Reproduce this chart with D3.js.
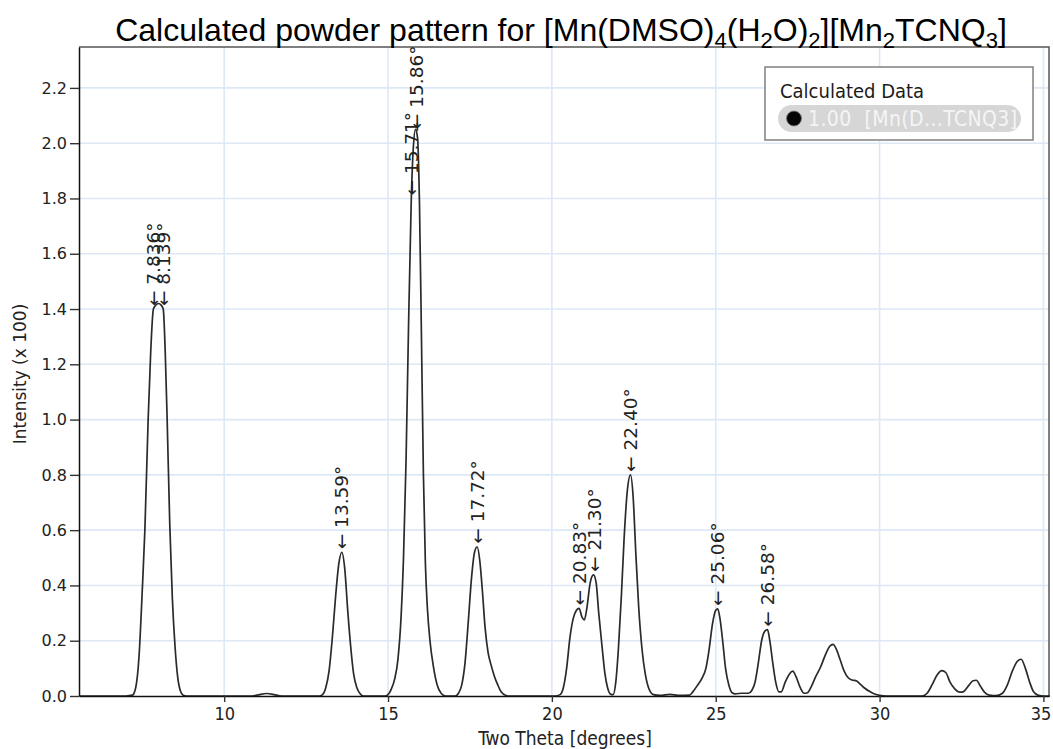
<!DOCTYPE html>
<html><head><meta charset="utf-8">
<script src="https://cdn.jsdelivr.net/npm/d3@7"></script>
<style>
html,body{margin:0;padding:0;background:#fff;}
svg{display:block;}
</style></head>
<body>
<svg id="chart" width="1053" height="749"></svg>
<script>
// ---------- data ----------
const twoTheta = [5.6,7.0,7.2,7.3,7.4,7.5,7.58,7.68,7.76,7.84,7.92,8.0,8.07,8.14,8.2,8.26,8.34,8.42,8.5,8.58,8.66,8.75,8.85,
 10.8,11.0,11.3,11.6,11.8,
 12.9,13.0,13.1,13.2,13.3,13.4,13.5,13.59,13.68,13.77,13.86,13.95,14.05,14.15,14.25,
 14.9,15.0,15.1,15.2,15.3,15.4,15.47,15.55,15.62,15.71,15.77,15.84,15.9,15.96,16.02,16.08,16.14,16.2,16.28,16.38,16.5,16.62,16.75,
 17.05,17.15,17.25,17.35,17.45,17.55,17.64,17.72,17.8,17.88,17.96,18.05,18.15,18.25,18.35,18.45,18.6,18.7,
 20.1,20.25,20.35,20.45,20.55,20.65,20.75,20.83,20.92,20.99,21.07,21.17,21.27,21.35,21.43,21.53,21.62,21.7,21.8,21.87,
 21.95,22.03,22.12,22.2,22.3,22.4,22.48,22.56,22.65,22.75,22.85,22.95,23.1,23.3,23.6,23.9,
 24.2,24.3,24.45,24.58,24.7,24.8,24.9,25.0,25.06,25.13,25.22,25.3,25.4,25.5,25.6,25.8,26.0,
 26.1,26.2,26.3,26.4,26.5,26.58,26.65,26.74,26.83,26.93,27.0,27.12,27.25,27.35,27.45,27.58,27.7,
 27.8,27.92,28.05,28.2,28.35,28.48,28.58,28.68,28.8,28.92,29.05,29.16,29.3,29.42,29.55,29.7,29.85,30.0,30.2,
 31.3,31.45,31.6,31.75,31.9,32.02,32.15,32.3,32.45,32.55,32.7,32.85,32.95,33.08,33.2,33.35,33.55,
 33.75,33.9,34.05,34.2,34.32,34.45,34.58,34.7,34.85,35.0,35.2];
const intensity = [0,0,0.003,0.03,0.14,0.38,0.6,1.0,1.25,1.40,1.415,1.42,1.415,1.40,1.25,1.0,0.62,0.35,0.18,0.07,0.02,0.003,0,
 0,0.003,0.009,0.003,0,
 0,0.005,0.03,0.09,0.21,0.36,0.48,0.52,0.46,0.31,0.18,0.08,0.03,0.008,0,
 0,0.005,0.025,0.06,0.13,0.29,0.49,0.85,1.3,1.80,1.98,2.05,2.02,1.78,1.3,0.8,0.48,0.32,0.2,0.11,0.04,0.01,0,
 0,0.01,0.04,0.12,0.27,0.43,0.52,0.54,0.49,0.38,0.25,0.16,0.11,0.07,0.04,0.015,0.002,0,
 0,0.005,0.03,0.1,0.21,0.28,0.31,0.317,0.285,0.275,0.32,0.41,0.438,0.41,0.3,0.18,0.08,0.03,0.006,0.005,
 0.05,0.17,0.36,0.56,0.74,0.80,0.72,0.52,0.32,0.17,0.08,0.03,0.005,0.002,0.006,0.002,
 0.003,0.015,0.04,0.064,0.1,0.17,0.26,0.31,0.315,0.28,0.19,0.1,0.04,0.012,0.008,0.01,0.01,
 0.02,0.05,0.12,0.2,0.235,0.24,0.2,0.12,0.05,0.015,0.015,0.05,0.08,0.09,0.07,0.03,0.01,
 0.012,0.035,0.07,0.105,0.15,0.18,0.187,0.17,0.13,0.09,0.065,0.058,0.054,0.042,0.028,0.016,0.007,0.002,0,
 0,0.01,0.04,0.075,0.092,0.085,0.05,0.025,0.014,0.015,0.035,0.055,0.057,0.035,0.014,0.003,0.001,
 0.01,0.04,0.09,0.125,0.133,0.1,0.05,0.015,0.002,0,0];

const peakPos    = [7.836, 8.139, 13.59, 15.71, 15.86, 17.72, 20.83, 21.30, 22.40, 25.06, 26.58];
const peakHeight = [1.40, 1.40, 0.52, 1.80, 2.04, 0.54, 0.317, 0.438, 0.80, 0.315, 0.24];
const peakText   = ["7.836°","8.139°","13.59°","15.71°","15.86°","17.72°","20.83°","21.30°","22.40°","25.06°","26.58°"];

const xTicks = [10, 15, 20, 25, 30, 35];
const yTicks = [0.0,0.2,0.4,0.6,0.8,1.0,1.2,1.4,1.6,1.8,2.0,2.2];

const legendTitle = "Calculated Data";
const legendItem = "1.00  [Mn(D...TCNQ3]";

// ---------- layout ----------
const L = 79, R = 1049, T = 47, B = 696;
const svg = d3.select("#chart");
const x = d3.scaleLinear().domain([5.57, 35.17]).range([L, R]);
const y = d3.scaleLinear().domain([0, 2.348]).range([B, T]);

const condensed = "'DejaVu Sans Condensed', 'DejaVu Sans', sans-serif";

// grid
const grid = svg.append("g");
grid.selectAll("line.v").data(xTicks).join("line")
  .attr("x1", d => x(d)).attr("x2", d => x(d)).attr("y1", T).attr("y2", B)
  .attr("stroke", "#dde8f6").attr("stroke-width", 1.6);
grid.selectAll("line.h").data(yTicks.filter(d => d > 0)).join("line")
  .attr("x1", L).attr("x2", R).attr("y1", d => y(d)).attr("y2", d => y(d))
  .attr("stroke", "#dde8f6").attr("stroke-width", 1.6);

// frame (top & right)
svg.append("path").attr("d", `M${L},${T}H${R}V${B}`)
  .attr("fill", "none").attr("stroke", "#555").attr("stroke-width", 1.5);

// curve
const pts = twoTheta.map((t, i) => [t, intensity[i]]);
svg.append("path").datum(pts)
  .attr("fill", "none").attr("stroke", "#2a2a2a").attr("stroke-width", 1.7)
  .attr("d", d3.line().x(d => x(d[0])).y(d => y(d[1])).curve(d3.curveMonotoneX));

// axes
const xAxis = svg.append("g").attr("transform", `translate(0,${B})`)
  .call(d3.axisBottom(x).tickValues(xTicks).tickSize(6).tickPadding(5).tickSizeOuter(0).tickFormat(d3.format("d")));
xAxis.select(".domain").attr("stroke", "#111").attr("stroke-width", 1.5);
xAxis.selectAll(".tick line").attr("stroke", "#333").attr("stroke-width", 1.4);
xAxis.selectAll(".tick text").attr("font-family", condensed).attr("font-size", 18).attr("fill", "#222")
  .attr("dx", d => d === 35 ? -3 : 0);

const yAxis = svg.append("g").attr("transform", `translate(${L},0)`)
  .call(d3.axisLeft(y).tickValues(yTicks).tickSize(9).tickPadding(3).tickSizeOuter(0).tickFormat(d3.format(".1f")));
yAxis.select(".domain").attr("stroke", "#111").attr("stroke-width", 1.5);
yAxis.selectAll(".tick text").attr("font-family", "'DejaVu Sans', sans-serif").attr("font-size", 16).attr("fill", "#222");
yAxis.selectAll(".tick line").attr("stroke", "#333").attr("stroke-width", 1.4);

// axis titles
svg.append("text").attr("x", 565).attr("y", 745).attr("text-anchor", "middle")
  .attr("font-family", condensed).attr("font-size", 19).attr("fill", "#222")
  .text("Two Theta [degrees]");
svg.append("text").attr("transform", `translate(26,374) rotate(-90)`).attr("text-anchor", "middle")
  .attr("font-family", "'DejaVu Sans', sans-serif").attr("font-size", 17).attr("fill", "#222")
  .text("Intensity (x 100)");

// title with subscripts
const title = svg.append("text").attr("x", 561).attr("y", 41).attr("text-anchor", "middle")
  .attr("font-family", "'Liberation Sans', Arial, sans-serif").attr("font-size", 32).attr("fill", "#000");
const parts = [["Calculated powder pattern for [Mn(DMSO)",0],["4",1],["(H",0],["2",1],["O)",0],["2",1],["][Mn",0],["2",1],["TCNQ",0],["3",1],["]",0]];
let prevSub = 0;
parts.forEach(([s, sub]) => {
  const ts = title.append("tspan").text(s);
  const dy = (sub ? 7 : 0) - (prevSub ? 7 : 0);
  if (dy) ts.attr("dy", dy);
  if (sub) ts.attr("font-size", 22);
  prevSub = sub;
});

// peak labels
const lbl = svg.append("g");
peakPos.forEach((p, i) => {
  lbl.append("text")
    .attr("transform", `translate(${x(p)},${y(peakHeight[i]) - 3}) rotate(-90)`)
    .attr("dy", "0.36em")
    .attr("font-family", "'DejaVu Sans', sans-serif").attr("font-size", 18.5).attr("fill", "#222")
    .text("\u2190 " + peakText[i]);
});

// legend
const lg = svg.append("g");
lg.append("rect").attr("x", 765).attr("y", 67).attr("width", 268).attr("height", 73)
  .attr("fill", "#fff").attr("stroke", "#808080").attr("stroke-width", 1.5);
lg.append("text").attr("x", 780).attr("y", 98).attr("font-family", condensed).attr("font-size", 20)
  .attr("fill", "#1a1a1a").text(legendTitle);
lg.append("rect").attr("x", 778).attr("y", 105).attr("width", 243).attr("height", 27).attr("rx", 13.5)
  .attr("fill", "#d6d6d6");
lg.append("circle").attr("cx", 794).attr("cy", 118.5).attr("r", 7.5).attr("fill", "#050505")
  .attr("stroke", "#777").attr("stroke-width", 0.8);
lg.append("text").attr("x", 808).attr("y", 126).attr("font-family", condensed).attr("font-size", 21)
  .attr("letter-spacing", 0.4)
  .attr("fill", "#f5f5f5").style("white-space", "pre").text(legendItem);
</script>
</body></html>
